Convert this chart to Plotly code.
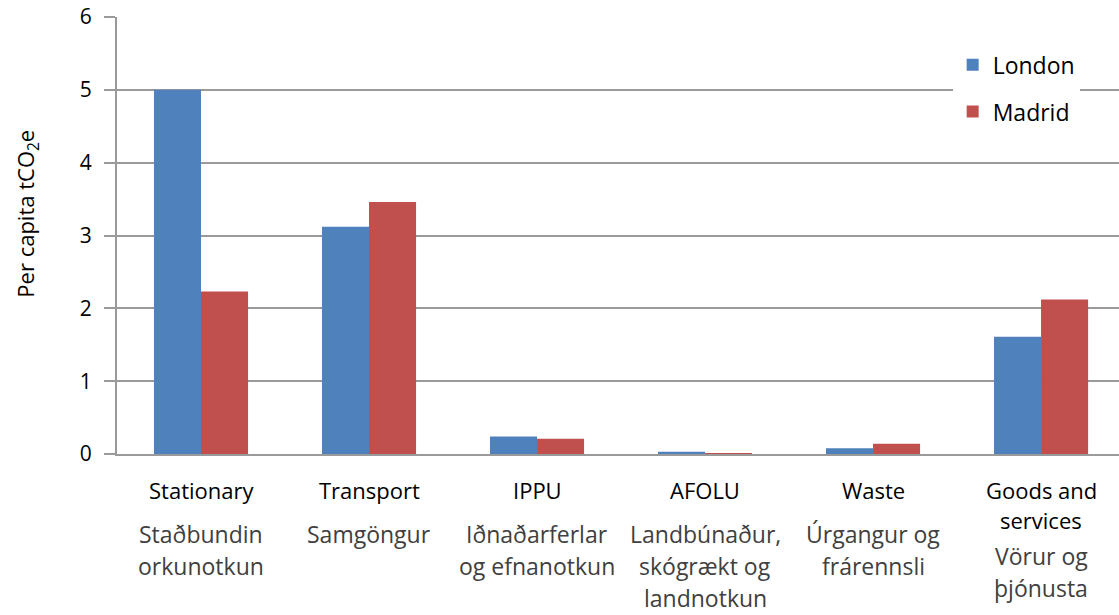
import plotly.graph_objects as go

# Per-capita emissions by sector (tCO2e)
categories = ["Stationary", "Transport", "IPPU", "AFOLU", "Waste", "Goods and services"]
london = [5.0, 3.12, 0.24, 0.03, 0.08, 1.61]
madrid = [2.23, 3.46, 0.21, 0.01, 0.14, 2.12]

# Axis label lines: English name, then Icelandic translation
english_lines = [["Stationary"], ["Transport"], ["IPPU"], ["AFOLU"], ["Waste"],
                 ["Goods and", "services"]]
icelandic_lines = [["Staðbundin", "orkunotkun"], ["Samgöngur"],
                   ["Iðnaðarferlar", "og efnanotkun"],
                   ["Landbúnaður,", "skógrækt og", "landnotkun"],
                   ["Úrgangur og", "frárennsli"], ["Vörur og", "þjónusta"]]
y_ticks = [0, 1, 2, 3, 4, 5, 6]

FONT = "Open Sans"
GRID = "#9a9a9a"

fig = go.Figure()
fig.add_bar(name="London", x=categories, y=london, marker_color="#4F81BD",
            marker_line_width=0, legendgroup="a")
fig.add_bar(name="Madrid", x=categories, y=madrid, marker_color="#C0504D",
            marker_line_width=0, legendgroup="b")

# Two-language category labels below the axis, one annotation per line
annotations = []
first_offset = 36     # px below the axis for the first English line
en_step = 30          # px between English lines
is_step = 32          # px between Icelandic lines
for cat, en, isl in zip(categories, english_lines, icelandic_lines):
    off = first_offset
    for i, line in enumerate(en):
        annotations.append(dict(x=cat, y=0, xref="x", yref="y", text=line,
                                showarrow=False, yanchor="middle", yshift=-off,
                                font=dict(family=FONT, size=22, color="#000000")))
        if i < len(en) - 1:
            off += en_step
    off += 44 if len(en) == 1 else 36
    for line in isl:
        annotations.append(dict(x=cat, y=0, xref="x", yref="y", text=line,
                                showarrow=False, yanchor="middle", yshift=-off,
                                font=dict(family=FONT, size=23, color="#404040")))
        off += is_step

# Rotated y-axis title
annotations.append(dict(x=0, y=0.55, xref="paper", yref="paper", xshift=-90,
                        text="Per capita tCO<sub>2</sub>e", textangle=-90,
                        showarrow=False, xanchor="center", yanchor="middle",
                        font=dict(family=FONT, size=22, color="#000000")))

fig.update_layout(
    width=1119, height=615,
    margin=dict(l=117, r=0, t=17, b=161),
    paper_bgcolor="white", plot_bgcolor="white",
    barmode="group", bargap=0.44, bargroupgap=0,
    font=dict(family=FONT, size=20, color="#000000"),
    showlegend=True,
    legend=dict(x=0.834, y=0.94, xanchor="left", yanchor="top",
                bgcolor="white", borderwidth=0, tracegroupgap=14,
                font=dict(family=FONT, size=23, color="#000000")),
    annotations=annotations,
)
fig.update_xaxes(range=[-0.5, 5.464], showticklabels=False, showgrid=False,
                 showline=True, linecolor=GRID, linewidth=2, ticks="",
                 zeroline=False)
fig.update_yaxes(range=[0, 6], tickvals=y_ticks, showgrid=True, gridcolor=GRID,
                 gridwidth=2, showline=True, linecolor=GRID, linewidth=2,
                 ticks="outside", ticklen=11, tickcolor=GRID, tickwidth=2,
                 ticklabelstandoff=8, zeroline=False,
                 tickfont=dict(family=FONT, size=21, color="#000000"))

fig.write_html("out.html")
